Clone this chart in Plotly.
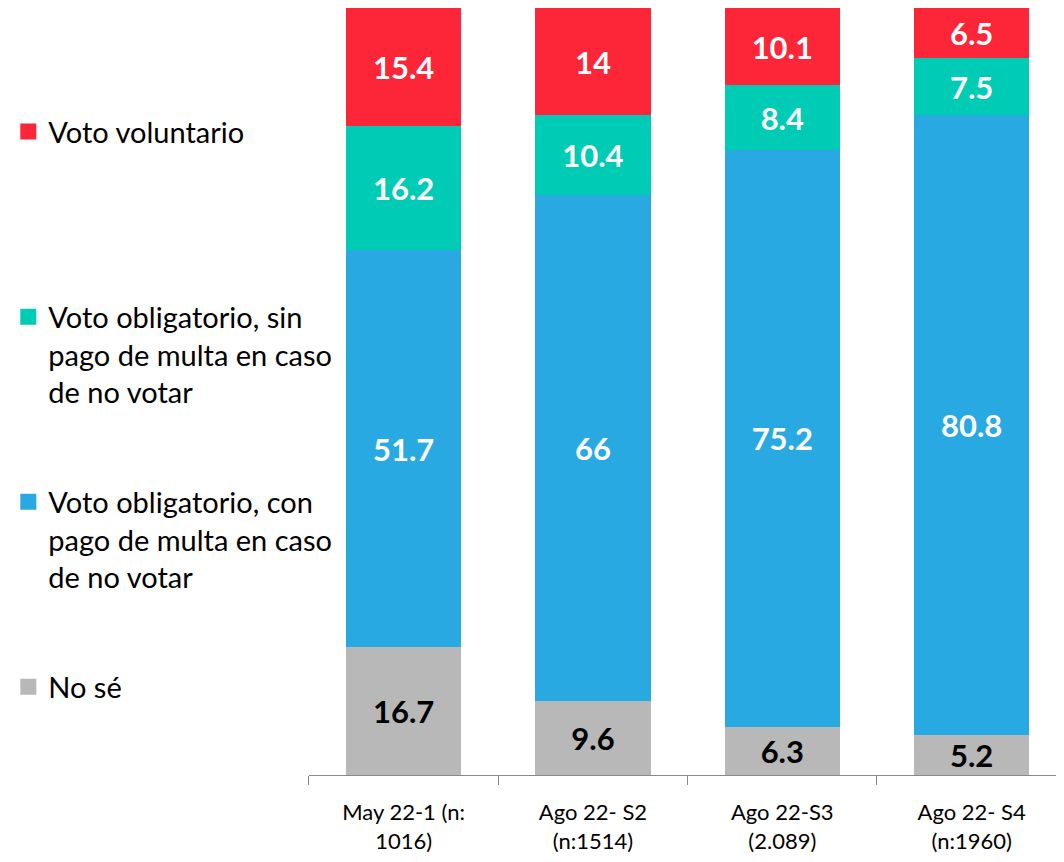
import plotly.graph_objects as go

categories = ["May 22-1 (n:<br>1016)", "Ago 22- S2<br>(n:1514)", "Ago 22-S3<br>(2.089)", "Ago 22- S4<br>(n:1960)"]
no_se = [16.7, 9.6, 6.3, 5.2]
con_multa = [51.7, 66, 75.2, 80.8]
sin_multa = [16.2, 10.4, 8.4, 7.5]
voluntario = [15.4, 14, 10.1, 6.5]

series = [
    ("No sé", "No sé", no_se, "#B8B8B8", "#000000", 4),
    ("Voto obligatorio, con multa", "Voto obligatorio, con<br>pago de multa en caso<br>de no votar", con_multa, "#29A9E1", "#FFFFFF", 3),
    ("Voto obligatorio, sin multa", "Voto obligatorio, sin<br>pago de multa en caso<br>de no votar", sin_multa, "#00CCB5", "#FFFFFF", 2),
    ("Voto voluntario", "Voto voluntario<br> <br> ", voluntario, "#FC2638", "#FFFFFF", 1),
]

fig = go.Figure()
for i, (short, legname, vals, color, tcolor, rank) in enumerate(series):
    fig.add_trace(go.Bar(
        x=categories, y=vals, name=short, showlegend=False,
        marker=dict(color=color, line=dict(width=0)),
        text=[f"{v:g}" for v in vals], textposition="inside",
        insidetextanchor="middle", constraintext="none",
        textfont=dict(family="Lato", size=31, color=tcolor, weight="bold"),
        textangle=0, hoverinfo="x+y+name",
    ))
    # legend entry
    fig.add_trace(go.Scatter(
        x=[None], y=[None], mode="markers", name=legname,
        legendgroup=str(rank), legendrank=rank,
        marker=dict(symbol="square", size=18, color=color),
    ))

fig.update_layout(
    barmode="stack", bargap=0.39,
    width=1064, height=862,
    margin=dict(l=0, r=0, t=0, b=95),
    plot_bgcolor="white", paper_bgcolor="white",
    font=dict(family="Lato", color="#000000"),
    legend=dict(
        x=-0.014, y=0.872, xanchor="left", yanchor="top",
        traceorder="grouped", tracegroupgap=69,
        valign="top", itemsizing="trace",
        font=dict(family="Lato", size=29, color="#000000"),
        itemwidth=30,
    ),
    xaxis=dict(
        domain=[290/1064, 1], range=[-0.5, 3.53],
        showline=True, linecolor="#888888", linewidth=1,
        ticks="outside", tickson="boundaries", ticklen=9, tickcolor="#888888",
        ticklabelstandoff=18,
        tickfont=dict(family="Lato", size=22, color="#000000"),
    ),
    yaxis=dict(range=[0, 100], visible=False),
)

fig.write_html("out.html")
